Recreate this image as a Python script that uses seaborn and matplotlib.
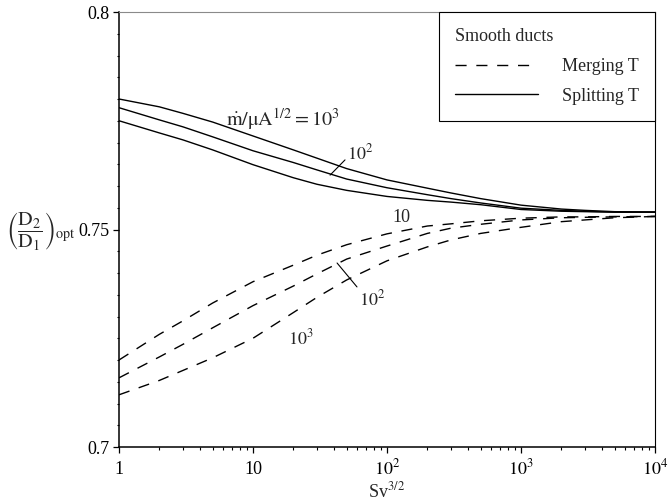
import numpy as np
import pandas as pd
import matplotlib
matplotlib.use("Agg")
import matplotlib.pyplot as plt
import matplotlib.ticker as mticker
import seaborn as sns

# ---------------- data ----------------
sv = [1, 2, 3, 5, 10, 20, 30, 50, 100, 200, 300, 500, 1000, 2000, 3000, 5000, 10000]

split_1e3 = [0.7800, 0.7782, 0.7767, 0.7747, 0.7715, 0.7683, 0.7664, 0.7640, 0.7614, 0.7595, 0.7584, 0.7571, 0.7556, 0.7547, 0.7544, 0.7541, 0.7540]
split_1e2 = [0.7780, 0.7752, 0.7736, 0.7713, 0.7681, 0.7654, 0.7637, 0.7616, 0.7596, 0.7580, 0.7571, 0.7561, 0.7549, 0.7544, 0.7542, 0.7540, 0.7540]
split_1e1 = [0.7750, 0.7722, 0.7706, 0.7683, 0.7649, 0.7619, 0.7604, 0.7590, 0.7576, 0.7567, 0.7563, 0.7557, 0.7546, 0.7542, 0.7541, 0.7540, 0.7540]

merge_1e1 = [0.7200, 0.7259, 0.7290, 0.7331, 0.7380, 0.7418, 0.7441, 0.7465, 0.7490, 0.7508, 0.7513, 0.7520, 0.7526, 0.7529, 0.7529, 0.7530, 0.7530]
merge_1e2 = [0.7159, 0.7207, 0.7236, 0.7274, 0.7325, 0.7370, 0.7398, 0.7432, 0.7462, 0.7491, 0.7503, 0.7512, 0.7522, 0.7527, 0.7528, 0.7529, 0.7530]
merge_1e3 = [0.7120, 0.7153, 0.7176, 0.7205, 0.7250, 0.7309, 0.7344, 0.7384, 0.7428, 0.7460, 0.7476, 0.7491, 0.7505, 0.7518, 0.7522, 0.7527, 0.7530]

series_types = ["Splitting T", "Splitting T", "Splitting T", "Merging T", "Merging T", "Merging T"]
series_params = ["1e3", "1e2", "1e1", "1e1", "1e2", "1e3"]
series_values = [split_1e3, split_1e2, split_1e1, merge_1e1, merge_1e2, merge_1e3]

x_ticks = [1, 10, 100, 1000, 10000]
x_tick_labels = ["1", "10", "$10^2$", "$10^3$", "$10^4$"]
y_ticks = [0.7, 0.75, 0.8]
y_tick_labels = ["0.7", "0.75", "0.8"]

legend_title = "Smooth ducts"
legend_labels = ["Merging T", "Splitting T"]

# annotations: (text, x, y)
ann_main = (r"$\dot{\mathrm{m}}/\mathrm{\mu A}^{1/2} = 10^3$", 16.8, 0.7740)
ann_plain = [("$10^2$", 63, 0.7676), ("10", 129, 0.7528), ("$10^2$", 77, 0.7340), ("$10^3$", 22.8, 0.7249)]
# leader lines: (start, end)
leaders = [((48.6, 0.7660), (37.6, 0.7625)), ((59.7, 0.7368), (42.4, 0.7423))]

FS = 13

# ---------------- frame ----------------
rows = []
for t, p, vals in zip(series_types, series_params, series_values):
    for xv, yv in zip(sv, vals):
        rows.append({"Sv": xv, "D": yv, "type": t, "param": p, "series": t + p})
df = pd.DataFrame(rows)

sns.set_theme(style="ticks")
plt.rcParams["font.family"] = ["Liberation Serif", "DejaVu Serif"]
plt.rcParams["mathtext.fontset"] = "stix"
plt.rcParams["font.size"] = FS

fig = plt.figure(figsize=(6.68, 5.04), dpi=100)
ax = fig.add_axes([119 / 668, 1 - 447 / 504, 536 / 668, 435 / 504])

dash_map = {"Merging T": (8, 7), "Splitting T": ""}
handles = {}
for key, sub in df.groupby("series", sort=False):
    t = sub["type"].iloc[0]
    sns.lineplot(data=sub, x="Sv", y="D", color="black", lw=1.0,
                 estimator=None, sort=False, legend=False, ax=ax)
    ln = ax.lines[-1]
    if dash_map[t]:
        ln.set_dashes(dash_map[t])
    handles.setdefault(t, ln)

ax.set_xscale("log")
ax.set_xlim(1, 10000)
ax.set_ylim(0.7, 0.8)

ax.set_xticks(x_ticks)
ax.set_xticklabels(x_tick_labels)
ax.xaxis.set_minor_locator(mticker.LogLocator(base=10, subs=np.arange(2, 10), numticks=20))
ax.xaxis.set_minor_formatter(mticker.NullFormatter())
ax.set_yticks(y_ticks)
ax.set_yticklabels(y_tick_labels)
ax.yaxis.set_minor_locator(mticker.MultipleLocator(0.005))

ax.tick_params(axis="both", which="major", direction="out", length=4, width=0.9,
               color="black", labelsize=FS, labelcolor="black")
ax.tick_params(axis="both", which="minor", direction="out", length=1.8, width=0.8, color="black")
ax.tick_params(axis="x", which="major", pad=15.5)
ax.tick_params(axis="y", which="major", pad=2.5)
for lbl in ax.get_xticklabels():
    lbl.set_va("baseline")

for s in ["left", "bottom"]:
    ax.spines[s].set_linewidth(1.1)
    ax.spines[s].set_color("black")
ax.spines["right"].set_linewidth(0.8)
ax.spines["right"].set_color("black")
ax.spines["top"].set_linewidth(0.8)
ax.spines["top"].set_color("#8a8a8a")

ax.set_xlabel("Sv$^{3/2}$", fontsize=FS)
ax.xaxis.set_label_coords(0.5, -0.080)
ax.set_ylabel(r"$\left(\dfrac{\mathrm{D_2}}{\mathrm{D_1}}\right)_{\mathrm{opt}}$",
              rotation=0, fontsize=14.5, va="center", ha="center")
ax.yaxis.set_label_coords(-0.145, 0.497)

ax.text(ann_main[1], ann_main[2], ann_main[0], ha="center", va="baseline", fontsize=14.5)
for txt, xx, yy in ann_plain:
    ax.text(xx, yy, txt, ha="center", va="center", fontsize=FS)
for (p0, p1) in leaders:
    ax.annotate("", xy=p1, xytext=p0,
                arrowprops=dict(arrowstyle="-", lw=0.8, color="black", shrinkA=0, shrinkB=0))

leg = ax.legend([handles[l] for l in legend_labels], legend_labels, title=legend_title,
                loc="upper right", bbox_to_anchor=(1, 1), borderaxespad=0,
                frameon=True, fancybox=False, edgecolor="black", framealpha=1,
                fontsize=FS, title_fontsize=FS, alignment="left",
                handlelength=4.6, handletextpad=1.3, borderpad=0.9, labelspacing=0.7)
leg.get_frame().set_linewidth(0.8)

fig.savefig("out.png", dpi=100)
